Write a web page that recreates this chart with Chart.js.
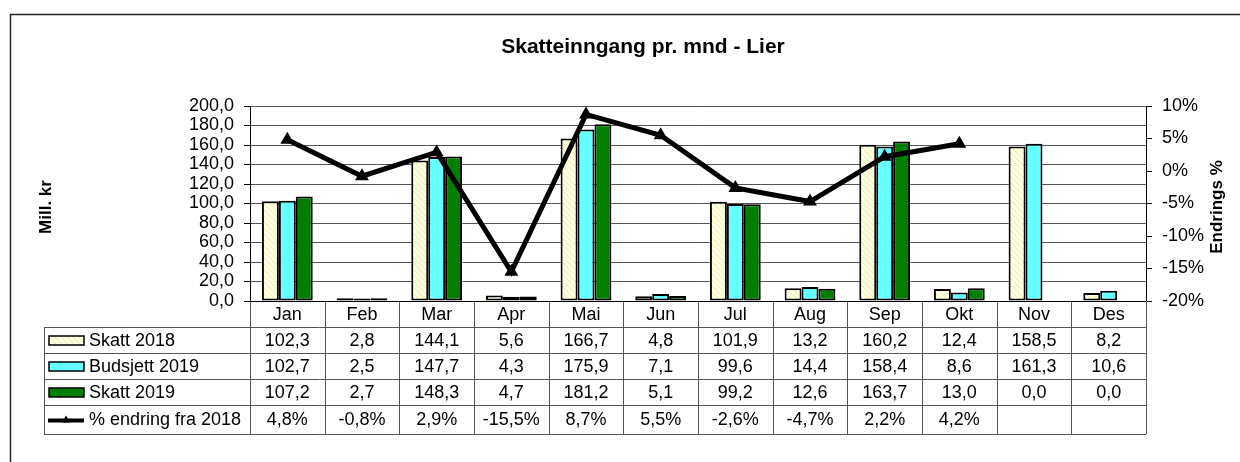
<!DOCTYPE html>
<html>
<head>
<meta charset="utf-8">
<script src="https://cdn.jsdelivr.net/npm/chart.js@4"></script>
<style>
  html, body { margin: 0; padding: 0; background: #fff; }
  #wrap { width: 1240px; height: 462px; }
</style>
</head>
<body>
<div id="wrap"><canvas id="myChart" width="1240" height="462"></canvas></div>
<script>
/* global Chart */

const months = ['Jan', 'Feb', 'Mar', 'Apr', 'Mai', 'Jun', 'Jul', 'Aug', 'Sep', 'Okt', 'Nov', 'Des'];
const skatt2018 = [102.3, 2.8, 144.1, 5.6, 166.7, 4.8, 101.9, 13.2, 160.2, 12.4, 158.5, 8.2];
const budsjett2019 = [102.7, 2.5, 147.7, 4.3, 175.9, 7.1, 99.6, 14.4, 158.4, 8.6, 161.3, 10.6];
const skatt2019 = [107.2, 2.7, 148.3, 4.7, 181.2, 5.1, 99.2, 12.6, 163.7, 13.0, 0.0, 0.0];
const endring = [4.8, -0.8, 2.9, -15.5, 8.7, 5.5, -2.6, -4.7, 2.2, 4.2, null, null];

const FONT = '"Liberation Sans", Arial, sans-serif';

// hatched light yellow fill for Skatt 2018
function hatch() {
  const c = document.createElement('canvas');
  c.width = 6; c.height = 6;
  const g = c.getContext('2d');
  g.fillStyle = '#ffffe6';
  g.fillRect(0, 0, 6, 6);
  g.strokeStyle = '#f2ec9a';
  g.lineWidth = 1;
  g.beginPath();
  g.moveTo(0, 0); g.lineTo(6, 6);
  g.moveTo(-3, 3); g.lineTo(3, 9);
  g.moveTo(3, -3); g.lineTo(9, 3);
  g.stroke();
  return g.createPattern(c, 'repeat');
}

const fmt1 = v => v.toFixed(1).replace('.', ',');
const fmtPct = v => v === null ? '' : v.toFixed(1).replace('.', ',') + '%';

const rows = [
  { label: 'Skatt 2018', values: skatt2018.map(fmt1), key: 'bar', ds: 0 },
  { label: 'Budsjett 2019', values: budsjett2019.map(fmt1), key: 'bar', ds: 1 },
  { label: 'Skatt 2019', values: skatt2019.map(fmt1), key: 'bar', ds: 2 },
  { label: '% endring fra 2018', values: endring.map(fmtPct), key: 'line', ds: 3 }
];

// frame, titles and the data table under the x axis
const tablePlugin = {
  id: 'tablePlugin',
  afterDraw(chart) {
    const ctx = chart.ctx;
    const area = chart.chartArea;
    const x = chart.scales.x;
    const step = (area.right - area.left) / months.length;
    const tableLeft = 44;
    const rowY = [area.bottom, 327, 353, 379, 405, 434];

    ctx.save();
    // outer frame
    ctx.strokeStyle = '#222';
    ctx.lineWidth = 1.5;
    ctx.beginPath();
    ctx.moveTo(10.5, 462); ctx.lineTo(10.5, 14.5); ctx.lineTo(1240, 14.5);
    ctx.stroke();

    // title
    ctx.fillStyle = '#000';
    ctx.font = 'bold 21px ' + FONT;
    ctx.textAlign = 'center';
    ctx.textBaseline = 'middle';
    ctx.fillText('Skatteinngang pr. mnd - Lier', 643, 47);

    // axis titles
    ctx.font = 'bold 17px ' + FONT;
    ctx.save();
    ctx.translate(46, 207);
    ctx.rotate(-Math.PI / 2);
    ctx.fillText('Mill. kr', 0, 0);
    ctx.restore();
    ctx.save();
    ctx.translate(1217, 207);
    ctx.rotate(-Math.PI / 2);
    ctx.fillText('Endrings %', 0, 0);
    ctx.restore();

    // table grid
    ctx.strokeStyle = '#555';
    ctx.lineWidth = 1;
    ctx.beginPath();
    for (let i = 1; i < rowY.length; i++) {
      ctx.moveTo(tableLeft, rowY[i] + 0.5);
      ctx.lineTo(area.right, rowY[i] + 0.5);
    }
    ctx.moveTo(tableLeft + 0.5, rowY[1]);
    ctx.lineTo(tableLeft + 0.5, rowY[5]);
    for (let i = 0; i <= months.length; i++) {
      const px = Math.round(area.left + i * step) + 0.5;
      ctx.moveTo(px, rowY[0]);
      ctx.lineTo(px, rowY[5]);
    }
    ctx.stroke();

    // x axis line
    ctx.strokeStyle = '#000';
    ctx.beginPath();
    ctx.moveTo(area.left, area.bottom + 0.5);
    ctx.lineTo(area.right, area.bottom + 0.5);
    ctx.stroke();

    ctx.font = '18px ' + FONT;
    ctx.fillStyle = '#000';
    ctx.textAlign = 'center';
    months.forEach((m, i) => {
      ctx.fillText(m, x.getPixelForValue(i), (rowY[0] + rowY[1]) / 2 + 1);
    });

    rows.forEach((r, ri) => {
      const cy = (rowY[ri + 1] + rowY[ri + 2]) / 2 + 1;
      const ds = chart.data.datasets[r.ds];
      if (r.key === 'bar') {
        ctx.fillStyle = ds.backgroundColor;
        ctx.fillRect(49, cy - 5, 35, 9);
        ctx.strokeStyle = '#000';
        ctx.lineWidth = 1.5;
        ctx.strokeRect(49, cy - 5, 35, 9);
      } else {
        ctx.strokeStyle = '#000';
        ctx.lineWidth = 4;
        ctx.beginPath();
        ctx.moveTo(48, cy); ctx.lineTo(84, cy);
        ctx.stroke();
        ctx.fillStyle = '#000';
        ctx.beginPath();
        ctx.moveTo(66, cy - 5); ctx.lineTo(62, cy + 2); ctx.lineTo(70, cy + 2);
        ctx.closePath();
        ctx.fill();
      }
      ctx.fillStyle = '#000';
      ctx.textAlign = 'left';
      ctx.fillText(r.label, 89, cy);
      ctx.textAlign = 'center';
      r.values.forEach((v, i) => {
        ctx.fillText(v, x.getPixelForValue(i), cy);
      });
    });
    ctx.restore();
  }
};

const ctx = document.getElementById('myChart').getContext('2d');

const chart = new Chart(ctx, {
  type: 'bar',
  data: {
    labels: months,
    datasets: [{
      label: 'Skatt 2018',
      backgroundColor: hatch(),
      borderColor: '#000',
      borderWidth: 2,
      data: skatt2018,
      order: 2
    },
    {
      label: 'Budsjett 2019',
      backgroundColor: '#66ffff',
      borderColor: '#000',
      borderWidth: 2,
      data: budsjett2019,
      order: 2
    },
    {
      label: 'Skatt 2019',
      backgroundColor: '#007f00',
      borderColor: '#000',
      borderWidth: 2,
      data: skatt2019,
      order: 2
    },
    {
      type: 'line',
      label: '% endring fra 2018',
      yAxisID: 'y2',
      borderColor: '#000',
      backgroundColor: '#000',
      borderWidth: 5,
      pointStyle: 'triangle',
      pointRadius: 3,
      spanGaps: false,
      data: endring,
      order: 1
    }]
  },
  options: {
    responsive: false,
    devicePixelRatio: 1,
    animation: false,
    layout: { padding: { left: 0, right: 0, top: 106, bottom: 161 } },
    plugins: {
      legend: { display: false },
      tooltip: { enabled: false },
      title: { display: false }
    },
    datasets: {
      bar: { categoryPercentage: 0.68, barPercentage: 1.0, borderSkipped: false }
    },
    scales: {
      x: { display: false },
      y: {
        position: 'left',
        min: 0,
        max: 200,
        afterFit(scale) { scale.width = 250; },
        ticks: {
          stepSize: 20,
          autoSkip: false,
          padding: 10,
          color: '#000',
          font: { family: FONT, size: 18 },
          callback: v => fmt1(v)
        },
        grid: { color: '#555', tickLength: 6, tickColor: '#000' },
        border: { color: '#000', width: 1 }
      },
      y2: {
        position: 'right',
        min: -20,
        max: 10,
        afterFit(scale) { scale.width = 94; },
        ticks: {
          stepSize: 5,
          autoSkip: false,
          padding: 10,
          color: '#000',
          font: { family: FONT, size: 18 },
          callback: v => v + '%'
        },
        grid: { drawOnChartArea: false, tickLength: 6, tickColor: '#000' },
        border: { color: '#000', width: 1 }
      }
    }
  },
  plugins: [tablePlugin]
});
console.log(chart);
</script>
</body>
</html>
